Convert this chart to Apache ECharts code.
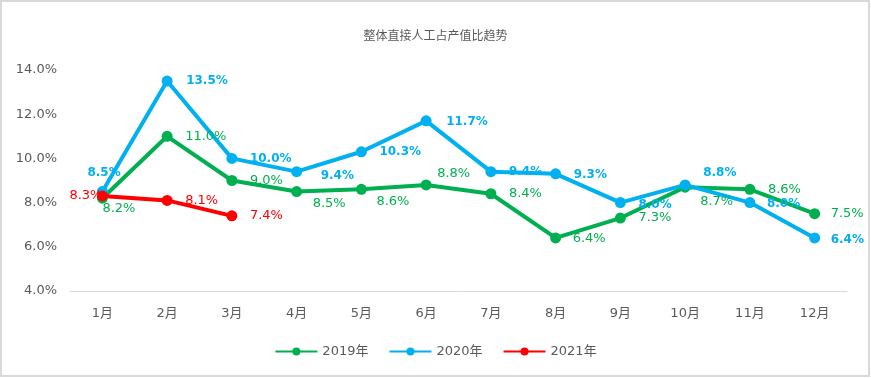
<!DOCTYPE html>
<html>
<head>
<meta charset="utf-8">
<script src="https://cdn.jsdelivr.net/npm/echarts@6/dist/echarts.min.js"></script>
<style>
html,body{margin:0;padding:0;background:#fff;}
#c{width:871px;height:378px;}
</style>
</head>
<body>
<div id="c"></div>
<script>
const categories = ['1月','2月','3月','4月','5月','6月','7月','8月','9月','10月','11月','12月'];
const seriesNames = ['2019年','2020年','2021年'];
const values2019 = [8.2, 11.0, 9.0, 8.5, 8.6, 8.8, 8.4, 6.4, 7.3, 8.7, 8.6, 7.5];
const values2020 = [8.5, 13.5, 10.0, 9.4, 10.3, 11.7, 9.4, 9.3, 8.0, 8.8, 8.0, 6.4];
const values2021 = [8.3, 8.1, 7.4];
const yTicks = [4, 6, 8, 10, 12, 14];

// label offsets (left edge of label relative to point centre), styling only
const off2019 = [[0,10],[18,0],[18,0],[16,12],[15,12],[11,-11],[18,0],[17,1],[18,0],[15,14],[18,0],[16,0]];
const off2020 = [[-15,-19],[19,0],[18,0],[24,4],[18,0],[20,1],[18,0],[18,1],[18,2],[18,-12],[17,1],[16,2]];
const off2021 = [[-33,0],[18,0],[18,0]];

const colors = ['#00B050', '#00B0F0', '#FF0000'];
const FONT = 'DejaVu Sans, Noto Sans CJK SC';

function build(vals, offs) {
  return vals.map((v, i) => ({
    value: v,
    label: { offset: offs[i] }
  }));
}

function mkSeries(name, vals, offs, color, bold) {
  return {
    name: name,
    type: 'line',
    data: build(vals, offs),
    symbol: 'circle',
    symbolSize: 11,
    lineStyle: { width: 4, color: color },
    itemStyle: { color: color },
    label: {
      show: true,
      position: 'inside',
      align: 'left',
      verticalAlign: 'middle',
      color: color,
      fontFamily: FONT,
      fontSize: bold ? 12 : 13,
      fontWeight: bold ? 'bold' : 'normal',
      formatter: p => p.value.toFixed(1) + '%'
    },
    emphasis: { disabled: true },
    animation: false
  };
}

const chart = echarts.init(document.getElementById('c'));
chart.setOption({
  backgroundColor: '#fff',
  animation: false,
  title: {
    text: '整体直接人工占产值比趋势',
    left: 'center',
    top: 24,
    textStyle: { fontFamily: 'Noto Sans CJK SC', fontSize: 12, fontWeight: 'normal', color: '#595959' }
  },
  graphic: [{
    type: 'rect', silent: true, z: -1,
    shape: { x: 1, y: 1, width: 868, height: 375 },
    style: { fill: 'none', stroke: '#D9D9D9', lineWidth: 2 }
  }],
  legend: {
    data: seriesNames,
    bottom: 15,
    left: 'center',
    itemWidth: 42,
    itemHeight: 10,
    itemGap: 20,
    textStyle: { fontFamily: FONT, fontSize: 13, color: '#595959' }
  },
  grid: { left: 70, right: 24, top: 70, bottom: 87, containLabel: false },
  xAxis: {
    type: 'category',
    data: categories,
    boundaryGap: true,
    axisLine: { lineStyle: { color: '#D9D9D9', width: 1 } },
    axisTick: { show: false },
    axisLabel: { color: '#595959', fontFamily: FONT, fontSize: 13, margin: 16 }
  },
  yAxis: {
    type: 'value',
    min: yTicks[0],
    max: yTicks[yTicks.length - 1],
    interval: 2,
    splitLine: { show: false },
    axisLine: { show: false },
    axisTick: { show: false },
    axisLabel: { color: '#595959', fontFamily: FONT, fontSize: 13, margin: 13, formatter: v => v.toFixed(1) + '%' }
  },
  series: [
    mkSeries(seriesNames[0], values2019, off2019, colors[0], false),
    mkSeries(seriesNames[1], values2020, off2020, colors[1], true),
    mkSeries(seriesNames[2], values2021, off2021, colors[2], false)
  ]
});
</script>
</body>
</html>
